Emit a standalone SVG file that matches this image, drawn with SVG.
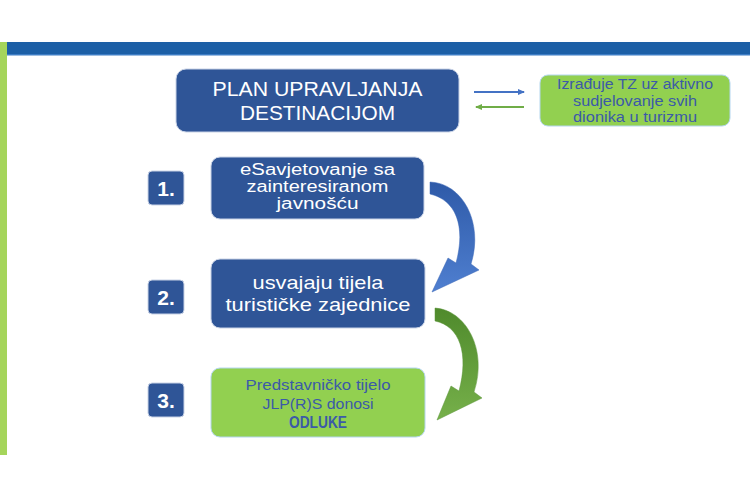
<svg xmlns="http://www.w3.org/2000/svg" width="750" height="500" viewBox="0 0 750 500">
<defs>
<style>
.db{fill:#2f5597;stroke:#c9d3e6;stroke-width:1}
.gb{fill:#92d050;stroke:#b4d6ef;stroke-width:1}
.wt{fill:#ffffff;font-family:"Liberation Sans",Arial,sans-serif;text-anchor:middle}
.bt{fill:#3b5aa8;font-family:"Liberation Sans",Arial,sans-serif;text-anchor:middle}
.num{fill:#ffffff;font-family:"Liberation Sans",Arial,sans-serif;font-weight:bold;font-size:21px;text-anchor:middle}
</style>
<linearGradient id="bg" x1="0" y1="0" x2="0" y2="1">
<stop offset="0" stop-color="#2e5aa8"/><stop offset="1" stop-color="#4f7fd0"/>
</linearGradient>
<linearGradient id="gg" x1="0" y1="0" x2="0" y2="1">
<stop offset="0" stop-color="#4f8a2c"/><stop offset="1" stop-color="#76b04a"/>
</linearGradient>
<marker id="ab" markerWidth="8" markerHeight="8" refX="6" refY="4" orient="auto" markerUnits="userSpaceOnUse"><path d="M0,1 L7,4 L0,7 Z" fill="#4472c4"/></marker>
<marker id="ag" markerWidth="8" markerHeight="8" refX="6" refY="4" orient="auto" markerUnits="userSpaceOnUse"><path d="M0,1 L7,4 L0,7 Z" fill="#70ad47"/></marker>
</defs>
<rect width="750" height="500" fill="#ffffff"/>
<rect x="0" y="42" width="7" height="413" fill="#a5d55b"/>
<rect x="7" y="42" width="743" height="13" fill="#1c5fa6"/>
<rect x="7" y="54" width="743" height="1.5" fill="#3c7cc4"/>

<g id="connectors">
<line x1="474" y1="92" x2="524" y2="92" stroke="#4472c4" stroke-width="2" marker-end="url(#ab)"/>
<line x1="524" y1="107" x2="476" y2="107" stroke="#70ad47" stroke-width="2" marker-end="url(#ag)"/>
<path d="M430,182 C462,183 484,222 471,264 L479,270 L432,292 L448,258 L456,263 C466,226 456,200 430,194 Z" fill="url(#bg)" stroke="#3a66b6" stroke-width="0.5"/>
<path d="M435,308 C466,310 488,350 474,392 L482,398 L437,420 L451,386 L459,391 C469,354 460,326 435,321 Z" fill="url(#gg)" stroke="#5a9438" stroke-width="0.5"/>
</g>

<g id="title">
<rect class="db" x="176" y="69" width="283" height="63" rx="10"/>
<text class="wt" font-size="21" x="317.5" y="96" textLength="210" lengthAdjust="spacingAndGlyphs">PLAN UPRAVLJANJA</text>
<text class="wt" font-size="21" x="317.5" y="120" textLength="155" lengthAdjust="spacingAndGlyphs">DESTINACIJOM</text>
</g>
<g id="note">
<rect class="gb" x="540" y="75" width="190" height="51" rx="8"/>
<text class="bt" font-size="14" x="635" y="89" textLength="156" lengthAdjust="spacingAndGlyphs">Izrađuje TZ uz aktivno</text>
<text class="bt" font-size="14" x="635" y="106" textLength="124" lengthAdjust="spacingAndGlyphs">sudjelovanje svih</text>
<text class="bt" font-size="14" x="635" y="122" textLength="124" lengthAdjust="spacingAndGlyphs">dionika u turizmu</text>
</g>
<g id="n1">
<rect class="db" x="148" y="171" width="36" height="34" rx="4"/>
<text class="num" x="166" y="196">1.</text>
</g>
<g id="step1">
<rect class="db" x="211" y="157" width="213" height="62" rx="9"/>
<text class="wt" font-size="16" x="317.5" y="175" textLength="155" lengthAdjust="spacingAndGlyphs">eSavjetovanje sa</text>
<text class="wt" font-size="16" x="317.5" y="192" textLength="142" lengthAdjust="spacingAndGlyphs">zainteresiranom</text>
<text class="wt" font-size="16" x="317.5" y="209" textLength="82" lengthAdjust="spacingAndGlyphs">javnošću</text>
</g>
<g id="n2">
<rect class="db" x="148" y="280" width="36" height="34" rx="4"/>
<text class="num" x="166" y="305">2.</text>
</g>
<g id="step2">
<rect class="db" x="211" y="259" width="214" height="69" rx="9"/>
<text class="wt" font-size="19" x="318" y="289" textLength="131" lengthAdjust="spacingAndGlyphs">usvajaju tijela</text>
<text class="wt" font-size="19" x="318" y="311" textLength="185" lengthAdjust="spacingAndGlyphs">turističke zajednice</text>
</g>
<g id="n3">
<rect class="db" x="148" y="383" width="36" height="34" rx="4"/>
<text class="num" x="166" y="408">3.</text>
</g>
<g id="step3">
<rect class="gb" x="211" y="368" width="214" height="69" rx="9"/>
<text class="bt" font-size="15" x="318" y="390" textLength="145" lengthAdjust="spacingAndGlyphs">Predstavničko tijelo</text>
<text class="bt" font-size="15" x="318" y="409" textLength="111" lengthAdjust="spacingAndGlyphs">JLP(R)S donosi</text>
<text class="bt" font-size="16" font-weight="bold" x="318" y="428" textLength="58" lengthAdjust="spacingAndGlyphs">ODLUKE</text>
</g>
</svg>
